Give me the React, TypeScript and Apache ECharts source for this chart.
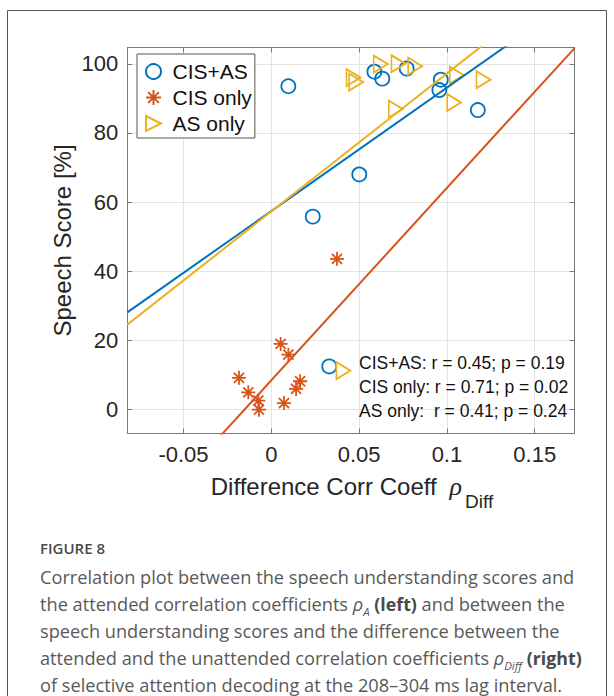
import React, { useEffect, useRef } from 'react';
import * as echarts from 'echarts';

// ---- data ----
const seriesNames = ['CIS+AS', 'CIS only', 'AS only'];

const cisAsX = [0.0097, 0.0587, 0.0632, 0.0771, 0.0965, 0.0957, 0.1176, 0.0501, 0.0236, 0.0330];
const cisAsY = [93.5, 97.7, 95.7, 98.6, 95.4, 92.4, 86.6, 68.0, 55.8, 12.5];

const cisOnlyX = [0.0053, 0.0097, -0.0184, -0.0131, -0.0074, -0.0070, 0.0072, 0.0164, 0.0141, 0.0374];
const cisOnlyY = [19.0, 15.9, 9.2, 5.0, 2.6, 0.0, 1.9, 8.2, 6.0, 43.6];

const asOnlyX = [0.0468, 0.0483, 0.0623, 0.0724, 0.0819, 0.0709, 0.1056, 0.1208, 0.1041, 0.0410];
const asOnlyY = [96.0, 94.7, 99.9, 100.0, 99.3, 86.9, 96.7, 95.4, 88.8, 11.3];

// regression lines (slope, intercept) for CIS+AS, CIS only, AS only
const fitSlopes = [357, 556, 399];
const fitIntercepts = [57.4, 8.5, 57.3];

const statR = ['0.45', '0.71', '0.41'];
const statP = ['0.19', '0.02', '0.24'];
const statPad = ['', '', '\u00a0'];

const xAxisTitle = 'Difference Corr Coeff';
const xAxisSymbol = 'ρ';
const xAxisSub = 'Diff';
const yAxisTitle = 'Speech Score [%]';

const captionHead = 'FIGURE 8';
const captionLines = [
  'Correlation plot between the speech understanding scores and',
  'the attended correlation coefficients {i|ρ}{sub|A} {b|(left)} and between the',
  'speech understanding scores and the difference between the',
  'attended and the unattended correlation coefficients {i|ρ}{sub|Diff} {b|(right)}',
  'of selective attention decoding at the 208–304 ms lag interval.',
];

// ---- styling ----
const BLUE = '#0072BD';
const ORANGE = '#D95319';
const YELLOW = '#EDB120';
const colors = [BLUE, ORANGE, YELLOW];
const X_MIN = -0.082;
const X_MAX = 0.1727;
const Y_MIN = -6.9;
const Y_MAX = 104.7;
const SANS = "'Liberation Sans', Arial, Helvetica, sans-serif";
const CAP = "'Open Sans', 'Noto Sans', sans-serif";
const AXIS_GREY = '#7a7a7a';
const TEXT_DARK = '#262626';
const CAP_SIZE = 18.2;

const ASTERISK = 'path://M0,-1L0,1M-1,0L1,0M-0.72,-0.72L0.72,0.72M-0.72,0.72L0.72,-0.72';
const TRIANGLE = 'path://M0,0L1,0.5L0,1Z';

function zip(xs: number[], ys: number[]) {
  return xs.map((x, i) => [x, ys[i]]);
}
function fitLine(slope: number, intercept: number) {
  return [
    [X_MIN, intercept + slope * X_MIN],
    [X_MAX, intercept + slope * X_MAX],
  ];
}

export default function App() {
  const ref = useRef<HTMLDivElement>(null);
  useEffect(() => {
    if (!ref.current) return;
    const chart = echarts.init(ref.current, null, { renderer: 'svg' });

    const scatterData = [zip(cisAsX, cisAsY), zip(cisOnlyX, cisOnlyY), zip(asOnlyX, asOnlyY)];
    const symbols = ['circle', ASTERISK, TRIANGLE];
    const sizes: any[] = [14, 14, [14, 17]];

    const scatterSeries = seriesNames.map((name, i) => ({
      name,
      type: 'scatter',
      xAxisIndex: 0,
      yAxisIndex: 0,
      data: scatterData[i],
      symbol: symbols[i],
      symbolSize: sizes[i],
      itemStyle: { color: 'rgba(255,255,255,0)', borderColor: colors[i], borderWidth: 1.8, opacity: 1 },
      emphasis: { disabled: true },
      z: 3,
    }));
    const lineSeries = seriesNames.map((name, i) => ({
      name: 'fit ' + name,
      type: 'line',
      xAxisIndex: 0,
      yAxisIndex: 0,
      data: fitLine(fitSlopes[i], fitIntercepts[i]),
      showSymbol: false,
      symbol: 'none',
      clip: true,
      lineStyle: { color: colors[i], width: 2 },
      silent: true,
      z: 4,
    }));

    const axisCommon = {
      type: 'value',
      axisLine: { show: true, onZero: false, lineStyle: { color: AXIS_GREY, width: 1 } },
      axisTick: { show: true, inside: true, length: 5, lineStyle: { color: AXIS_GREY } },
    };

    const annotation = seriesNames.map((name, i) => ({
      type: 'text',
      x: 359,
      y: 363 + i * 24,
      z: 50,
      style: {
        text: `${name}:${statPad[i]} r = ${statR[i]}; p = ${statP[i]}`,
        font: `17.5px ${SANS}`,
        fill: '#111',
        verticalAlign: 'middle',
        align: 'left',
      },
    }));

    const caption = captionLines.map((line, i) => ({
      type: 'text',
      x: 40,
      y: 577 + i * 27,
      z: 50,
      style: {
        text: line,
        font: `${CAP_SIZE}px ${CAP}`,
        fill: '#595959',
        verticalAlign: 'middle',
        align: 'left',
        lineHeight: 26,
        rich: {
          i: { fontFamily: CAP, fontSize: CAP_SIZE, fontStyle: 'italic', fill: '#595959', lineHeight: 26 },
          sub: { fontFamily: CAP, fontSize: 11.5, fontStyle: 'italic', fill: '#595959', lineHeight: 16, verticalAlign: 'bottom' },
          b: { fontFamily: CAP, fontSize: 17.8, fontWeight: 'bold', fill: '#4a4a4a', lineHeight: 26 },
        },
      },
    }));

    chart.setOption({
      animation: false,
      backgroundColor: '#ffffff',
      grid: { left: 127.3, top: 47.5, width: 447.3, height: 386, outerBoundsMode: 'none', containLabel: false },
      legend: {
        data: seriesNames,
        left: 137,
        top: 54,
        orient: 'vertical',
        backgroundColor: '#ffffff',
        borderColor: '#555',
        borderWidth: 1,
        borderRadius: 0,
        padding: [7, 3, 4, 8],
        itemGap: 5,
        itemWidth: 28,
        itemHeight: 15,
        selectedMode: false,
        textStyle: { fontSize: 21, fontFamily: SANS, color: '#111' },
        z: 20,
      },
      xAxis: [
        {
          ...axisCommon,
          position: 'bottom',
          min: X_MIN,
          max: X_MAX,
          axisLabel: { show: true, fontSize: 22, fontFamily: SANS, color: TEXT_DARK, margin: 10, showMinLabel: false, showMaxLabel: false },
          splitLine: { show: true, lineStyle: { color: '#e4e4e4', width: 1 } },
        },
        {
          ...axisCommon,
          position: 'top',
          min: X_MIN,
          max: X_MAX,
          axisLabel: { show: false },
          splitLine: { show: false },
        },
      ],
      yAxis: [
        {
          ...axisCommon,
          position: 'left',
          min: Y_MIN,
          max: Y_MAX,
          name: yAxisTitle,
          nameLocation: 'middle',
          nameGap: 53,
          nameMoveOverlap: false,
          nameTextStyle: { fontSize: 24, fontFamily: SANS, color: TEXT_DARK },
          axisLabel: { show: true, fontSize: 22, fontFamily: SANS, color: TEXT_DARK, margin: 9, showMinLabel: false, showMaxLabel: false },
          splitLine: { show: true, lineStyle: { color: '#e4e4e4', width: 1 } },
        },
        {
          ...axisCommon,
          position: 'right',
          min: Y_MIN,
          max: Y_MAX,
          axisLabel: { show: false },
          splitLine: { show: false },
        },
      ],
      series: [...scatterSeries, ...lineSeries],
      graphic: [
        {
          type: 'rect',
          shape: { x: 7.5, y: 10.5, width: 599, height: 720 },
          style: { fill: 'none', stroke: '#555', lineWidth: 1 },
          silent: true,
          z: -10,
        },
        {
          type: 'text',
          x: 352,
          y: 486,
          z: 50,
          style: {
            text: `{a|${xAxisTitle}}{r|${xAxisSymbol}}{s|${xAxisSub}}`,
            align: 'center',
            verticalAlign: 'middle',
            rich: {
              a: { fontFamily: SANS, fontSize: 24, fill: TEXT_DARK, lineHeight: 50 },
              r: { fontFamily: "'Liberation Serif', serif", fontSize: 26, fontStyle: 'italic', fill: TEXT_DARK, lineHeight: 50, padding: [0, 3, 0, 13] },
              s: { fontFamily: SANS, fontSize: 19, fill: TEXT_DARK, lineHeight: 10, verticalAlign: 'bottom' },
            },
          },
        },
        ...annotation,
        {
          type: 'text',
          x: 40,
          y: 548,
          z: 50,
          style: {
            text: captionHead,
            font: `600 15px ${CAP}`,
            fill: '#4a4a4a',
            verticalAlign: 'middle',
            align: 'left',
          },
        },
        ...caption,
      ],
    });

    return () => chart.dispose();
  }, []);

  return (
    <div
      ref={ref}
      style={{ position: 'absolute', left: 0, top: 0, width: 614, height: 696, background: '#fff' }}
    />
  );
}
